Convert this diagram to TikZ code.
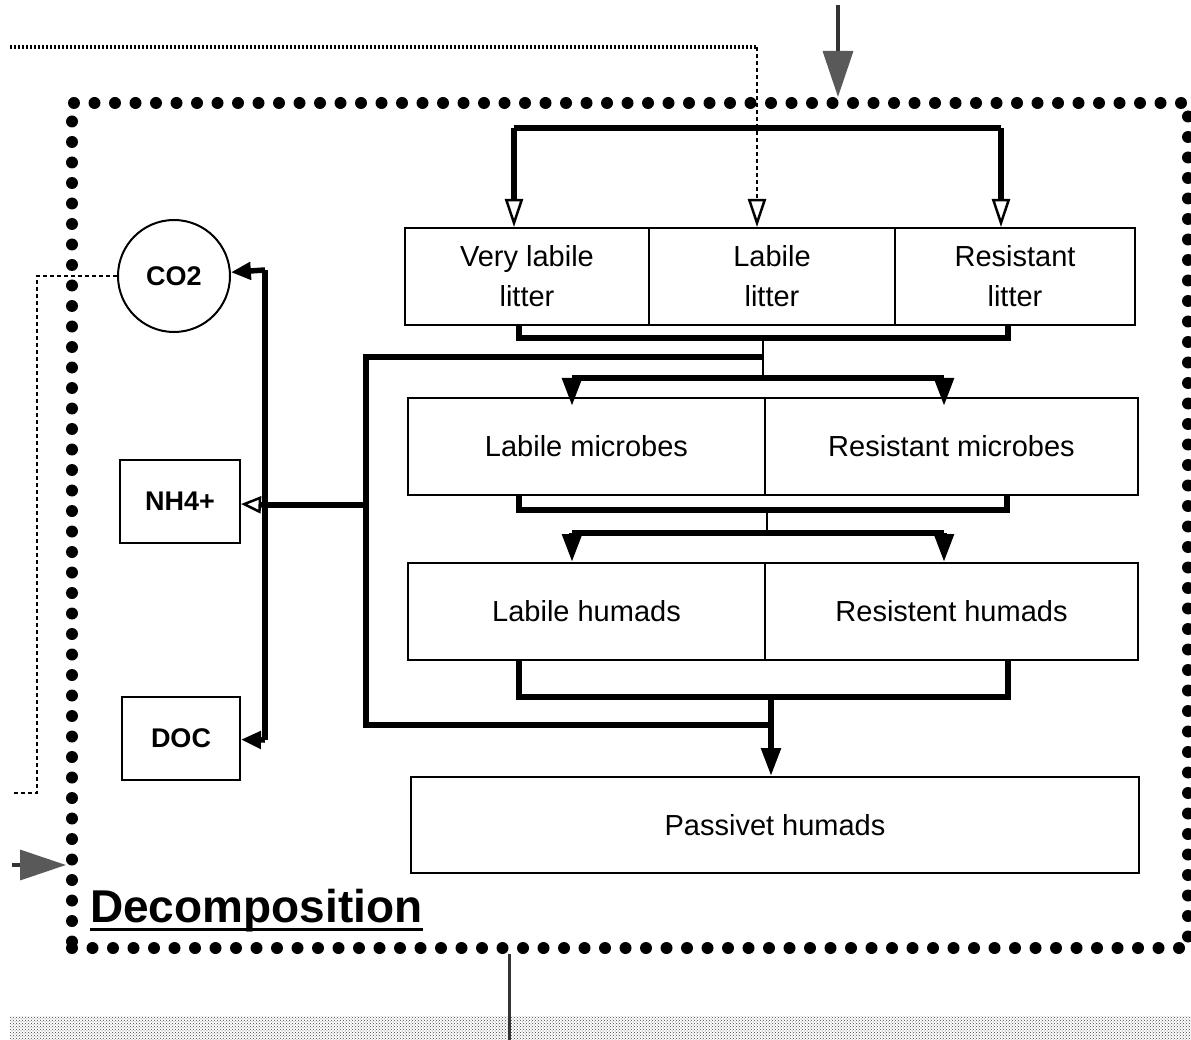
\documentclass[tikz,border=0pt]{standalone}
\usepackage{fontspec}
\setmainfont{Liberation Sans}
\usetikzlibrary{arrows.meta,patterns,calc}
\begin{document}
\begin{tikzpicture}[x=1pt,y=-1pt,
  box/.style={draw, line width=2pt, inner sep=0pt, align=center, font=\fontsize{29}{40}\selectfont},
  pool/.style={draw, line width=2pt, inner sep=0pt, font=\bfseries\fontsize{27}{32}\selectfont},
  flow/.style={line width=5.5pt},
  thinflow/.style={line width=2.5pt},
  blk/.style={-{Triangle[length=28pt,width=19pt]}},
  smallblk/.style={-{Triangle[length=20pt,width=17pt]}},
  opn/.style={-{Triangle[open,length=28pt,width=18pt,line width=2.5pt,fill=white]}},
  bigin/.style={line width=3.5pt, draw=black!80, -{Triangle[length=46pt,width=30pt,fill=black!65,color=black!65]}},
  decobox/.style={draw, line width=12pt, dash pattern=on 0pt off 20.5pt, line cap=round, inner sep=0pt},
  feedh/.style={line width=4.5pt, dash pattern=on 2pt off 2pt},
  feedv/.style={line width=2.2pt, dash pattern=on 4pt off 3pt}
]
\useasboundingbox (0,0) rectangle (1191,1040);

% outer decomposition box
\node[decobox, minimum width=1116pt, minimum height=845pt] (decomp) at (630,525.5) {};
\node[anchor=base west, inner sep=0pt, font=\bfseries\fontsize{46}{50}\selectfont] (decolabel) at (90,922) {Decomposition};
\draw[line width=3pt] ([yshift=-7pt]decolabel.base west) -- ([yshift=-7pt]decolabel.base east);

% litter boxes
\node[box, minimum width=244pt, minimum height=97pt] (VL) at (527,276.5) {Very labile\\litter};
\node[box, minimum width=246pt, minimum height=97pt] (L) at (772,276.5) {Labile\\litter};
\node[box, minimum width=240pt, minimum height=97pt] (R) at (1015,276.5) {Resistant\\litter};

% microbes
\node[box, minimum width=357pt, minimum height=97pt] (LM) at (586.5,446.5) {Labile microbes};
\node[box, minimum width=373pt, minimum height=97pt] (RM) at (951.5,446.5) {Resistant microbes};

% humads
\node[box, minimum width=357pt, minimum height=97pt] (LH) at (586.5,611.5) {Labile humads};
\node[box, minimum width=373pt, minimum height=97pt] (RH) at (951.5,611.5) {Resistent humads};

% passive
\node[box, minimum width=728pt, minimum height=96pt] (P) at (775,825) {Passivet humads};

% pools
\node[pool, circle, minimum size=112pt] (co2) at (174,276) {CO2};
\node[pool, minimum width=120pt, minimum height=83pt] (nh4) at (180,501.5) {NH4+};
\node[pool, minimum width=118pt, minimum height=83pt] (doc) at (181,738.5) {DOC};

% top input arrow
\coordinate (topin) at (838,5);
\draw[bigin] (topin) -- (decomp.north -| topin);

% left input arrow
\coordinate (leftin) at (12,865);
\draw[bigin] (leftin) -- (decomp.west |- leftin);

% bottom output
\coordinate (botout) at (509,1040);
\fill[pattern=crosshatch dots, pattern color=black!75] (10,1016) rectangle (1191,1040);
\draw[line width=3pt, draw=black!80] (decomp.south -| botout) -- (botout);

% top dotted feed into labile litter
\coordinate (feedstart) at (10,47);
\coordinate (feedcorner) at (757,47);
\draw[feedh] (feedstart) -- (feedcorner);
\draw[feedv, opn] (feedcorner) -- (feedcorner |- L.north);

% top bracket distributing to litter
\coordinate (bl) at (514,128);
\coordinate (br) at (1001,128);
\draw[flow] (bl) -- (br);
\draw[flow, opn] (bl) -- (bl |- VL.north);
\draw[flow, opn] (br) -- (br |- R.north);

% litter collector
\coordinate (lc1) at (519,338);
\coordinate (lc2) at (1008,338);
\coordinate (lcm) at (763,338);
\draw[flow] (lc1 |- VL.south) -- (lc1) -- (lc2) -- (lc2 |- R.south);
\coordinate (mdist) at (763,378);
\draw[thinflow] (lcm) -- (mdist);

% distribute to microbes
\coordinate (ma) at (572,378);
\coordinate (mb) at (944,378);
\draw[flow] (ma) -- (mb);
\draw[flow, blk] (ma) -- ($(ma |- LM.north)+(0,9)$);
\draw[flow, blk] (mb) -- ($(mb |- RM.north)+(0,9)$);

% microbe collector
\coordinate (mc1) at (519,510);
\coordinate (mc2) at (1007,510);
\coordinate (mcm) at (767,510);
\draw[flow] (mc1 |- LM.south) -- (mc1) -- (mc2) -- (mc2 |- RM.south);
\coordinate (hdist) at (767,533);
\draw[thinflow] (mcm) -- (hdist);

% distribute to humads
\coordinate (ha) at (572,533);
\coordinate (hb) at (944,533);
\draw[flow] (ha) -- (hb);
\draw[flow, blk] (ha) -- (ha |- LH.north);
\draw[flow, blk] (hb) -- (hb |- RH.north);

% humad collector to passive
\coordinate (hc1) at (519,697);
\coordinate (hc2) at (1008,697);
\coordinate (hcm) at (771,697);
\draw[flow] (hc1 |- LH.south) -- (hc1) -- (hc2) -- (hc2 |- RH.south);
\draw[flow, blk] (hcm) -- (hcm |- P.north);

% left bus (mineralisation)
\coordinate (busT) at (366,357);
\coordinate (busM) at (366,505);
\coordinate (busB) at (366,725);
\coordinate (pj) at (771,725);
\draw[flow] (lcm |- busT) -- (busT) -- (busB) -- (pj);

% pool bus
\coordinate (cbus) at (265,270);
\coordinate (nbus) at (265,505);
\coordinate (dbus) at (265,740);
\draw[flow] (busM) -- (nbus);
\draw[flow] (cbus) -- (dbus);
\draw[flow, smallblk] (cbus) -- (co2);
\draw[flow, -{Triangle[open,length=20pt,width=17pt,line width=2.5pt,fill=white]}] (nbus) -- (nh4);
\draw[flow, smallblk] (dbus) -- (doc);

% CO2 dotted output
\coordinate (co2corner) at (37,276);
\coordinate (co2down) at (37,793);
\coordinate (co2out) at (12,793);
\draw[feedv] (co2) -- (co2corner) -- (co2down) -- (co2out);

\end{tikzpicture}
\end{document}
